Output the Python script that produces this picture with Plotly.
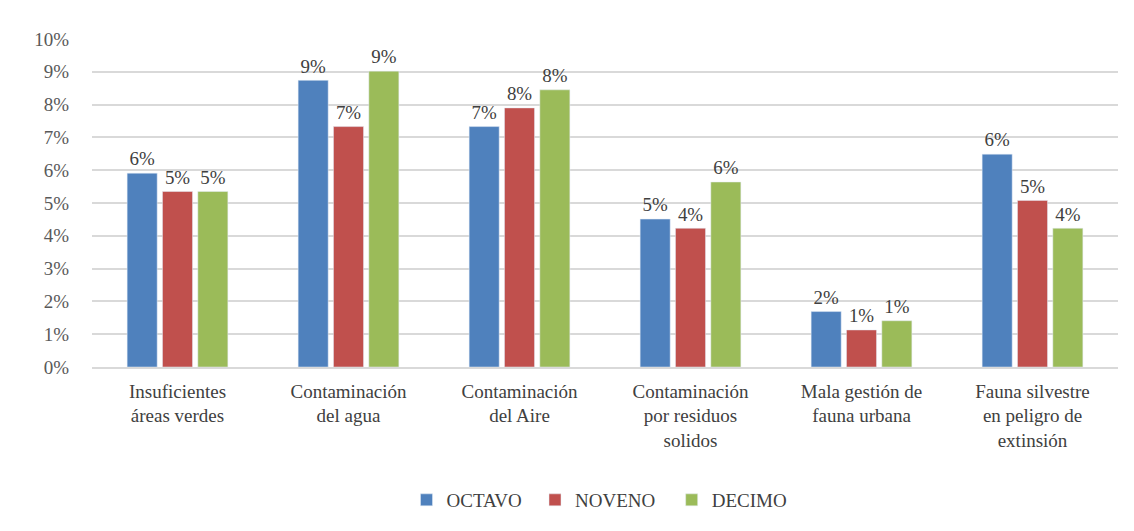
import plotly.graph_objects as go

categories = [
    "Insuficientes<br>áreas verdes",
    "Contaminación<br>del agua",
    "Contaminación<br>del Aire",
    "Contaminación<br>por residuos<br>solidos",
    "Mala gestión de<br>fauna urbana",
    "Fauna silvestre<br>en peligro de<br>extinsión",
]
octavo = [0.0591, 0.0874, 0.0733, 0.0451, 0.0169, 0.0649]
noveno = [0.0535, 0.0733, 0.0790, 0.0423, 0.0113, 0.0508]
decimo = [0.0535, 0.0902, 0.0845, 0.0564, 0.0141, 0.0423]
y_ticks = [i / 100 for i in range(0, 11)]

series = [
    ("OCTAVO", octavo, "#4F81BD"),
    ("NOVENO", noveno, "#C0504D"),
    ("DECIMO", decimo, "#9BBB59"),
]

FONT = "DejaVu Serif"

fig = go.Figure()
for name, vals, color in series:
    fig.add_trace(
        go.Bar(
            x=categories,
            y=vals,
            name=name,
            marker_color=color,
            texttemplate="%{y:.0%}",
            textposition="outside",
            textfont=dict(family=FONT, size=20, color="#404040"),
            cliponaxis=False,
        )
    )

# the page body adds an 8px margin, so the figure is 8px smaller than the window
W, H = 1126, 523
ml, mr, mt, mb = 84, 16, 31, 164
plot_h = H - mt - mb

fig.update_layout(
    width=W,
    height=H,
    margin=dict(l=ml, r=mr, t=mt, b=mb),
    plot_bgcolor="white",
    barmode="group",
    bargap=0.38,
    bargroupgap=0.15,
    font=dict(family=FONT, size=19, color="#404040"),
    xaxis=dict(
        showgrid=False,
        showline=True,
        linecolor="#D9D9D9",
        linewidth=1.5,
        ticks="outside",
        ticklen=6,
        tickcolor="rgba(0,0,0,0)",
        tickfont=dict(family=FONT, size=19, color="#404040"),
    ),
    yaxis=dict(
        range=[0, 0.1],
        tickvals=y_ticks,
        tickformat=".0%",
        gridcolor="#D9D9D9",
        gridwidth=1.5,
        zeroline=False,
        ticks="outside",
        ticklen=18,
        tickcolor="rgba(0,0,0,0)",
        tickfont=dict(family=FONT, size=19, color="#595959"),
    ),
    legend=dict(
        orientation="h",
        xanchor="center",
        x=0.5,
        yanchor="middle",
        y=(mt + plot_h - 492) / plot_h,
        font=dict(family=FONT, size=19, color="#404040"),
    ),
)

# force the serif face on every svg text node in case the inline family is ignored
post = """
document.querySelectorAll('text').forEach(function (t) {
    t.style.fontFamily = "'Liberation Serif', 'Times New Roman', serif";
});
"""

fig.write_html("out.html", post_script=post)
